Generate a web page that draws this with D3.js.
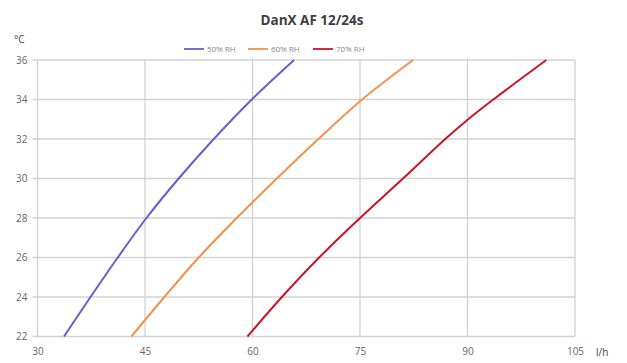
<!DOCTYPE html>
<html>
<head>
<meta charset="utf-8">
<script src="https://cdn.jsdelivr.net/npm/d3@7"></script>
<style>
  html, body { margin: 0; padding: 0; background: #fff; }
  svg { display: block; font-family: "Open Sans", "Liberation Sans", sans-serif; }
</style>
</head>
<body>
<svg id="chart" width="627" height="363"></svg>
<script>
// ---- data ----
const title = "DanX AF 12/24s";
const seriesNames = ["50% RH", "60% RH", "70% RH"];
const seriesColors = ["#6b5bd2", "#f29150", "#cc1428"];
const temps = [22, 24, 26, 28, 30, 32, 34, 36];
const flow50 = [33.7, 37.4, 41.2, 45.2, 49.7, 54.6, 59.9, 65.8];
const flow60 = [43.1, 47.7, 52.5, 57.8, 63.4, 69.2, 75.3, 82.4];
const temps70 = [22, 24, 26, 28, 30, 32, 33, 34, 36];
const flow70 = [59.3, 64.1, 69.3, 75.0, 81.0, 86.9, 90.1, 93.6, 101.0];
const xTicks = [30, 45, 60, 75, 90, 105];
const yTicks = [22, 24, 26, 28, 30, 32, 34, 36];
const xUnit = "l/h";
const yUnit = "°C";

// ---- layout ----
const svg = d3.select("#chart");
const mLeft = 37.5, mRight = 575, mTop = 60, mBottom = 336.5;
const x = d3.scaleLinear().domain([30, 105]).range([mLeft, mRight]);
const y = d3.scaleLinear().domain([22, 36]).range([mBottom, mTop]);

// title
svg.append("text").attr("x", 312).attr("y", 25).attr("text-anchor", "middle")
  .attr("font-size", 13.5).attr("font-weight", "bold").attr("fill", "#404040").text(title);

// y unit
svg.append("text").attr("x", 14).attr("y", 43).attr("font-size", 10).attr("fill", "#404040").text(yUnit);

// grid
const g = svg.append("g");
g.selectAll("line.h").data(yTicks).join("line")
  .attr("x1", mLeft - 5).attr("x2", mRight)
  .attr("y1", d => y(d)).attr("y2", d => y(d))
  .attr("stroke", "#d2d2d2").attr("stroke-width", 1.3);
g.selectAll("line.v").data(xTicks).join("line")
  .attr("x1", d => x(d)).attr("x2", d => x(d))
  .attr("y1", mTop).attr("y2", mBottom)
  .attr("stroke", "#d2d2d2").attr("stroke-width", 1.3);

// y axis labels
const yAxis = d3.axisLeft(y).tickValues(yTicks).tickSize(0).tickPadding(10).tickFormat(d3.format("d"));
svg.append("g").attr("transform", `translate(${mLeft},0)`).call(yAxis)
  .call(s => s.select(".domain").remove())
  .selectAll("text").attr("font-size", 10).attr("fill", "#666").attr("font-family", "Open Sans");

// x axis labels
const xAxis = d3.axisBottom(x).tickValues(xTicks).tickSize(0).tickPadding(11).tickFormat(d3.format("d"));
svg.append("g").attr("transform", `translate(0,${mBottom})`).call(xAxis)
  .call(s => s.select(".domain").remove())
  .selectAll("text").attr("font-size", 10).attr("fill", "#666").attr("font-family", "Open Sans");

svg.append("text").attr("x", 596).attr("y", 356).attr("font-size", 10).attr("fill", "#404040").text(xUnit);

// lines
const seriesData = [
  temps.map((t, i) => [flow50[i], t]),
  temps.map((t, i) => [flow60[i], t]),
  temps70.map((t, i) => [flow70[i], t])
];
const line = d3.line().x(d => x(d[0])).y(d => y(d[1])).curve(d3.curveCatmullRom.alpha(0.5));
svg.append("g").selectAll("path").data(seriesData).join("path")
  .attr("d", line).attr("fill", "none")
  .attr("stroke", (d, i) => seriesColors[i]).attr("stroke-width", 2);

// legend
const legendX = [184, 248, 313];
const lg = svg.append("g").selectAll("g").data(seriesNames).join("g")
  .attr("transform", (d, i) => `translate(${legendX[i]},49)`);
lg.append("line").attr("x1", 0).attr("x2", 20).attr("y1", 0).attr("y2", 0)
  .attr("stroke", (d, i) => seriesColors[i]).attr("stroke-width", 1.8);
lg.append("text").attr("x", 23).attr("y", 3).attr("font-size", 8).attr("fill", "#888").text(d => d);
</script>
</body>
</html>
